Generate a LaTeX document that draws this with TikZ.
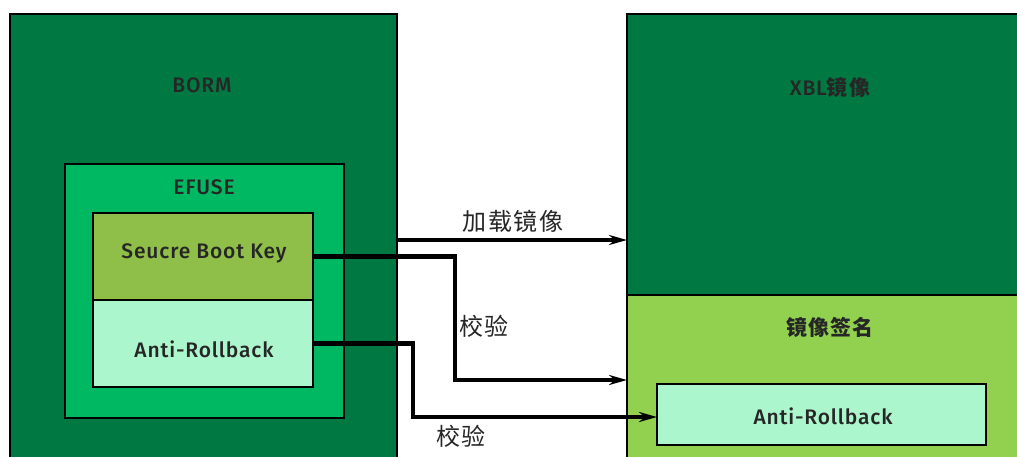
\documentclass[tikz,border=0pt]{standalone}
\usepackage{fontspec}
\setmainfont{Fira Sans}[BoldFont={Fira Sans Medium}, LetterSpace=4]
\newfontfamily\cjk{Noto Sans CJK SC}[LetterSpace=6]
\usetikzlibrary{arrows.meta}
\definecolor{dkgreen}{RGB}{0,120,66}
\definecolor{midgreen}{RGB}{0,184,98}
\definecolor{olive}{RGB}{143,191,72}
\definecolor{mint}{RGB}{172,246,205}
\definecolor{lime}{RGB}{146,208,80}
\tikzset{
  box/.style={draw=black, line width=1.3pt, anchor=north west, inner sep=0pt, outer sep=0pt},
  lbl/.style={font=\fontsize{21}{24}\selectfont\bfseries, text=black!85},
  clbl/.style={font=\cjk\fontsize{24}{28}\selectfont, text=black!85},
  conn/.style={line width=4.5pt, -{Stealth[length=18pt,width=10pt]}, line join=miter},
}
\begin{document}
\begin{tikzpicture}[x=1pt,y=-1pt]
\useasboundingbox (0,0) rectangle (1017,456);
\clip (0,0) rectangle (1017,456);
\fill[white] (0,0) rectangle (1017,456);
% left side
\node[box, fill=dkgreen, minimum width=387pt, minimum height=456pt] (borm) at (10,14) {};
\node[lbl] (bormlbl) at (202,85) {BORM};
\node[box, fill=midgreen, minimum width=279pt, minimum height=254pt] (efuse) at (65,164) {};
\node[lbl] (efuselbl) at (204,187) {EFUSE};
\node[box, fill=olive, minimum width=220pt, minimum height=87pt] (key) at (93,213) {};
\node[lbl] (keylbl) at (204,253) {Seucre Boot Key};
\node[box, fill=mint, minimum width=220pt, minimum height=87pt] (ar) at (93,300) {};
\node[lbl] (arlbl) at (204,349) {Anti-Rollback};
% right side
\node[box, fill=dkgreen, minimum width=420pt, minimum height=281pt] (xbl) at (627,14) {};
\node[lbl] (xbllbl) at (830,87) {XBL{\cjk\fontsize{21}{24}\selectfont\bfseries 镜像}};
\node[box, fill=lime, minimum width=420pt, minimum height=180pt] (sig) at (627,295) {};
\node[clbl, font=\cjk\fontsize{21}{24}\selectfont\bfseries] (siglbl) at (830,327) {镜像签名};
\node[box, fill=mint, minimum width=329pt, minimum height=61pt] (ar2) at (657,384) {};
\node[lbl] (ar2lbl) at (823,416) {Anti-Rollback};
% connectors
\draw[conn] (borm.east |- 0,240) -- (xbl.west |- 0,240);
\node[clbl] (load) at (513,221) {加载镜像};
\coordinate (k1) at (455,256.5);
\draw[conn] (key.east) -- (k1) |- (sig.west |- 0,380);
\node[clbl] (chk1) at (484,326) {校验};
\coordinate (a1) at (413,343.5);
\draw[conn] (ar.east) -- (a1) |- (ar2.west |- 0,417);
\node[clbl] (chk2) at (461,436) {校验};
\end{tikzpicture}
\end{document}
